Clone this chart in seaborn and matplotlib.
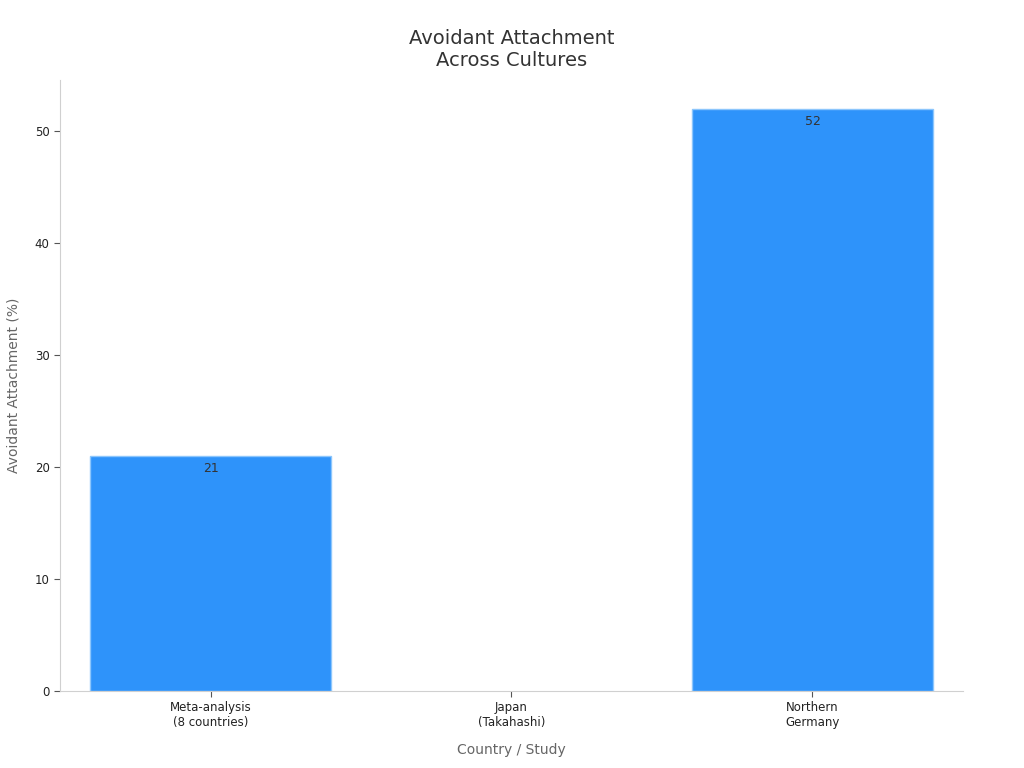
import pandas as pd
import matplotlib
matplotlib.use('Agg')
import matplotlib.pyplot as plt
import seaborn as sns

# Values
studies = ['Meta-analysis\n(8 countries)', 'Japan\n(Takahashi)', 'Northern\nGermany']
avoidant_pct = [21, 0, 52]

df = pd.DataFrame({'study': studies, 'pct': avoidant_pct})

sns.set_style('white')
plt.rcParams['font.family'] = ['DejaVu Sans']

fig = plt.figure(figsize=(10.24, 7.68), dpi=100)
ax = fig.add_axes([0.0586, 0.1003, 0.8818, 0.7956])

sns.barplot(data=df, x='study', y='pct', color='#2E93FA', saturation=1,
            width=0.8, edgecolor='#8CC6FC', linewidth=1, ax=ax)

# hide the outline of an empty bar
for patch in ax.patches:
    if patch.get_height() == 0:
        patch.set_linewidth(0)

# value labels just inside the top of each bar
for i, v in enumerate(avoidant_pct):
    if v > 0:
        ax.text(i, v - 0.5, str(v), ha='center', va='top', fontsize=9, color='#333333')

ax.set_xlim(-0.5, 2.5)
ax.set_ylim(0, 54.6)
ax.set_yticks([0, 10, 20, 30, 40, 50])

ax.set_title('Avoidant Attachment\nAcross Cultures', fontsize=14, color='#333333', pad=10)
ax.set_xlabel('Country / Study', fontsize=10, color='#666666', labelpad=10)
ax.set_ylabel('Avoidant Attachment (%)', fontsize=10, color='#666666', labelpad=10)

ax.tick_params(axis='both', bottom=True, left=True, labelsize=8.5, length=4, width=0.8,
               colors='#555555', labelcolor='#222222')

for s in ['top', 'right']:
    ax.spines[s].set_visible(False)
for s in ['left', 'bottom']:
    ax.spines[s].set_color('#D0D0D0')
    ax.spines[s].set_linewidth(0.8)

fig.savefig('out.png', dpi=100)
